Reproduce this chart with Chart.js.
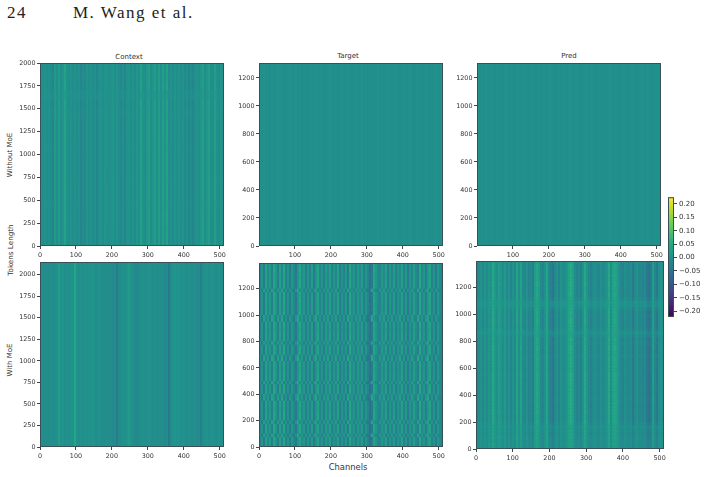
<!DOCTYPE html>
<html lang="en">
<head>
<meta charset="UTF-8">
<title>M. Wang et al. - 24</title>
<script src="https://cdn.jsdelivr.net/npm/chart.js"></script>
<style>
    html, body { margin: 0; padding: 0; background: #fff; overflow: hidden; }
    body { position: relative; width: 704px; height: 477px; font-family: "DejaVu Sans", sans-serif; color: #333; }
    canvas { position: absolute; }
    .lab { position: absolute; white-space: nowrap; transform: translate(-50%, -50%); }
    .rot { transform: translate(-50%, -50%) rotate(-90deg); }
    .head { position: absolute; top: 3px; font: 17px "Liberation Serif", serif; color: #222; letter-spacing: 1.5px; }
</style>
</head>
<body>
    <div class="head" style="left:7px">24</div>
    <div class="head" style="left:73px">M. Wang et al.</div>

    <div class="lab" style="left:129px;top:57px;font-size:7px">Context</div>
    <div class="lab" style="left:348px;top:56px;font-size:7px">Target</div>
    <div class="lab" style="left:569px;top:56px;font-size:7px">Pred</div>
    <div class="lab rot" style="left:10px;top:155px;font-size:7px">Without MoE</div>
    <div class="lab rot" style="left:10px;top:250px;font-size:7.2px">Tokens Length</div>
    <div class="lab rot" style="left:10px;top:360px;font-size:7px">With MoE</div>
    <div class="lab" style="left:348px;top:467px;font-size:8.4px">Channels</div>

<script>
// all heatmap values are in thousandths of the colorbar unit
const contextTop = [
    3,-4,5,-3,2,-6,-20,22,-2,26, -6,8,38,2,-4,6,-6,3,-8,4,
    -22,-4,-14,8,-6,6,-10,2,-22,2, 8,-4,10,3,-2,6,12,-6,8,-6,
    -16,-2,-20,4,10,-8,6,-10,12,-2, 34,2,-4,12,30,-6,8,26,-4,32,
    -2,30,2,34,-8,4,-10,8,-4,10, -6,4,-14,2,-20,-4,-22,-2,8,-2,
    14,30,-4,14,32,-2,-6,30,2,-8,14,4
];
const targetTop = [
    2,-1,3,-2,1,-3,2,0,-2,3, -1,2,-3,1,-1,3,0,-2,4,-1, 2,-3,1,0,-4,2,1,-2,3,-1, 0,2,-3,1,-2,3,0,-1,2,-4,
    1,3,-2,0,2,-1,-3,1,2,-2, 0,3,-1,1,-3,2,0,-2,1,3, -1,2,-2,1,3,-2,0,-1,2,-3, 1,0,2,-1,-2,3,1,-3,0,2,
    -1,1,-2,2,0,-3,1,-1,2,0,-2,1
];
const predTop = [
    1,-2,2,-1,3,-2,0,2,-3,1, 2,-1,0,-2,3,1,-1,2,-3,0, 2,1,-2,3,-1,0,-2,2,1,-3, 2,0,-1,2,-2,1,3,-1,0,-3,
    2,1,-2,2,0,-1,3,-2,1,0, 2,-3,1,-1,2,0,-2,3,-1,1, -2,2,0,-1,1,-2,3,0,-1,2, -3,1,0,2,-2,1,-1,3,-2,0,
    1,-1,2,-2,0,3,-1,1,-2,2,0,-1
];
const contextMoe = [
    -5,-3,-6,-3,-6,-2,-5,1,-1,26, 2,4,-2,4,1,6,2,44,3,-2,
    2,-3,4,-1,5,2,14,1,-4,3, 1,-3,-4,-1,-7,-3,-9,-10,-38,-8,
    -4,2,-1,8,24,6,1,-8,-14,-4, -1,2,-1,-2,4,-1,-4,-1,-7,-2,
    -6,-3,-12,-4,-44,-6,3,9,2,3, 0,3,-2,-3,2,-3,-5,-2,-10,-4,
    -34,-4,2,3,0,3,4,1,-3,3,1,0
];
const targetMoe = [
    -28,12,-42,38,-12,20,-34,46,14,-36, 34,-18,48,-26,8,-40,18,-14,-44,12,
    48,-8,20,-34,14,-26,28,-42,8,42, -20,14,-36,22,-12,34,-28,12,-16,36,
    -34,8,-22,18,-40,48,-8,14,-28,20, -14,28,-34,12,-22,-60,-40,46,14,-18,
    -26,20,-12,34,-36,14,-20,26,-32,8, -14,36,-28,16,-40,12,-20,30,-8,-34,
    50,-16,14,-34,22,42,-26,12,-40,20,-14,-28
];
const predMoe = [
    -28,-6,6,-16,10,-10,12,2,50,14, -2,28,10,-8,22,-14,8,-22,4,-16,
    42,-4,38,-10,-18,4,-24,-12,-36,28, 48,24,-12,-22,2,44,-18,-26,-46,-12,
    6,-22,10,-10,-4,12,40,54,32,-8, -24,-12,-32,6,50,10,-14,-26,-10,2,
    -12,-18,2,-16,-6,10,50,-8,38,46, 30,2,-16,-24,2,-12,-18,-6,-42,-12,
    4,-18,-12,-22,-10,-42,-52,-40,30,-18,-42,-4,10,-8
];

// per-row contrast, lift and column drift, bottom row first
const contextTopGain = [1,.95,1,1,.9,1,1,.95,1,1,.95,1,1,1,.8,1,.55,1,.85,1];
const contextTopLift = [0,0,0,0,1,0,0,0,0,0,1,0,0,0,2,0,3,0,1,0];

const targetMoeGain = [
    1,.95,1.05,.88, .95,1.05,1,.85, 1,1.05,.95,.88, 1,.95,1.05,.85, .95,1.05,1,.88, 1,1.05,.95,.85, 1,.95,1.05,.88,
    1.05,1,.95,.85, 1,1.05,.95,.88, .95,1,1.05,.85, 1,.95,1.05,.88, 1.05,.95,1,.85, 1,1.05,.95,.88, .95,1.05,1,.9
];
const targetMoeShift = [
    0,0,0,1, 0,0,0,1, 0,0,0,0, 0,0,1,1, 0,0,0,1, 0,0,0,0, 0,0,1,1, 0,0,0,1, 0,0,0,0, 0,0,1,1, 0,0,0,0, 0,0,0,1, 0,0,0,0, 0,0,0,0
];
const targetMoeLift = [
    0,1,0,-1, 1,0,1,-1, 0,-1,1,-2, 0,1,0,-1, 1,0,-1,-1, 0,1,0,-2, 1,0,1,-1,
    0,0,1,-1, 1,-1,0,-2, 0,1,0,-1, 1,0,-1,-1, 0,1,0,-2, 0,1,1,-1, 0,0,1,-1
];

const predMoeGain = [
    .6,.65,.55,.7,.8,.65,.6,.85, 1,1,.95,1,1.05,1,.95,1, 1,1,.9,1,1.05,1,1,.95,
    .95,1,1,.85,1,1.05,1,.9, 1,.75,.6,.9, 1,1,1.05,.95, 1,.85,.6,.55,.85,1, 1,.95,1,1.05,1,1,.9,1,1,.85
];
const predMoeLift = [
    4,6,3,5,2,4,8,3, 0,-1,1,0,-2,0,1,0, -1,0,1,0,-1,0,1,-2, 0,-1,0,2,-1,0,0,1, 0,4,9,2, -1,0,0,1, 0,4,11,10,3,0, -1,0,1,0,-1,0,1,-1,0,2
];

// tick positions
const channelTicks = [0, 100, 200, 300, 400, 500];
const channelTicksNoZero = [100, 200, 300, 400, 500];
const tokenTicksLong = [0, 250, 500, 750, 1000, 1250, 1500, 1750, 2000];
const tokenTicksShort = [0, 200, 400, 600, 800, 1000, 1200];
const colorbarTicks = [-0.2, -0.15, -0.1, -0.05, 0, 0.05, 0.1, 0.15, 0.2];
const colorbarLabels = ['\u22120.20', '\u22120.15', '\u22120.10', '\u22120.05', '0.00', '0.05', '0.10', '0.15', '0.20'];
const colorbarLevels = [
    -0.221, -0.21, -0.2, -0.19, -0.18, -0.17, -0.16, -0.15, -0.14, -0.13, -0.12, -0.11, -0.1, -0.09, -0.08, -0.07,
    -0.06, -0.05, -0.04, -0.03, -0.02, -0.01, 0, 0.01, 0.02, 0.03, 0.04, 0.05, 0.06, 0.07, 0.08, 0.09,
    0.1, 0.11, 0.12, 0.13, 0.14, 0.15, 0.16, 0.17, 0.18, 0.19, 0.2, 0.21, 0.225
];

const viridis = ['#440154', '#482475', '#414487', '#355f8d', '#2a788e', '#21918c', '#22a884', '#44bf70', '#7ad151', '#bddf26', '#fde725'];
const colorMin = -0.221, colorMax = 0.225;

const spine = '#3a5058';
const textColor = '#333';

Chart.defaults.font.family = '"DejaVu Sans", sans-serif';
Chart.defaults.font.size = 6.4;
Chart.defaults.color = textColor;

function hexToRgb(hex) {
    return [1, 3, 5].map(i => parseInt(hex.substr(i, 2), 16));
}

function colorOf(v) {
    const t = Math.min(1, Math.max(0, (v - colorMin) / (colorMax - colorMin))) * (viridis.length - 1);
    const i = Math.min(viridis.length - 2, Math.floor(t));
    const a = hexToRgb(viridis[i]), b = hexToRgb(viridis[i + 1]), f = t - i;
    return 'rgb(' + a.map((c, k) => Math.round(c + (b[k] - c) * f)).join(',') + ')';
}

// teal under the bars so row seams don't show white, frame on top
const framePlugin = {
    id: 'frame',
    beforeDatasetsDraw(chart) {
        const a = chart.chartArea;
        chart.ctx.fillStyle = colorOf(0);
        chart.ctx.fillRect(a.left, a.top, a.right - a.left, a.bottom - a.top);
    },
    afterDraw(chart) {
        const a = chart.chartArea, c = chart.ctx;
        c.save();
        c.strokeStyle = spine;
        c.lineWidth = 1;
        c.strokeRect(a.left + 0.5, a.top + 0.5, a.right - a.left - 1, a.bottom - a.top - 1);
        c.restore();
    }
};

function setTicks(values) {
    return scale => { scale.ticks = values.map(v => ({ value: v })); };
}

function addCanvas(left, top, width, height) {
    const el = document.createElement('canvas');
    el.width = width;
    el.height = height;
    el.style.left = left + 'px';
    el.style.top = top + 'px';
    el.style.width = width + 'px';
    el.style.height = height + 'px';
    document.body.appendChild(el);
    return el;
}

function axisStyle() {
    return {
        grid: { display: true, offset: false, drawOnChartArea: false, drawTicks: true, tickLength: 3, tickColor: '#444', tickWidth: 1 },
        border: { display: false }
    };
}

// one stacked slot per channel, one dataset per band of tokens
function heatmap(p) {
    const padTop = 8, padRight = 12, yWidth = 32, xHeight = 17;
    const el = addCanvas(p.left - yWidth, p.top - padTop, p.right - p.left + yWidth + padRight, p.bottom - p.top + padTop + xHeight);
    const step = 512 / p.cols.length;
    const rowCount = p.gain ? p.gain.length : 1;
    const rowSize = p.rowSize || p.yMax;
    const datasets = [];
    for (let r = 0; r < rowCount; r++) {
        const gain = p.gain ? p.gain[r] : 1;
        const lift = p.lift ? p.lift[r] : 0;
        const shift = p.shift ? p.shift[r] : 0;
        const points = [], colors = [];
        p.cols.forEach((_, c) => {
            const v = p.cols[(c + shift) % p.cols.length] * gain + lift;
            points.push({ x: (c + 0.5) * step, y: [r * rowSize, (r + 1) * rowSize] });
            colors.push(colorOf(v / 1000));
        });
        datasets.push({ data: points, backgroundColor: colors, borderWidth: 0, barPercentage: 1, categoryPercentage: 1, inflateAmount: 0 });
    }
    return new Chart(el, {
        type: 'bar',
        data: { datasets },
        plugins: [framePlugin],
        options: {
            responsive: false,
            animation: false,
            events: [],
            layout: { padding: { top: padTop, right: padRight, left: 0, bottom: 0 } },
            plugins: { legend: { display: false }, tooltip: { enabled: false } },
            scales: {
                x: Object.assign(axisStyle(), {
                    type: 'linear', offset: false, min: 0, max: 512, stacked: true,
                    afterBuildTicks: setTicks(p.xTicks),
                    afterFit(s) { s.height = xHeight; },
                    ticks: { autoSkip: false, maxRotation: 0, padding: 2.5, callback: v => String(v) }
                }),
                y: Object.assign(axisStyle(), {
                    type: 'linear', min: 0, max: p.yMax, stacked: false,
                    afterBuildTicks: setTicks(p.yTicks),
                    afterFit(s) { s.width = yWidth; },
                    ticks: { autoSkip: false, padding: 1.5, callback: v => String(v) }
                })
            }
        }
    });
}

heatmap({ left: 40, right: 224, top: 63, bottom: 246, cols: contextTop, gain: contextTopGain, lift: contextTopLift, rowSize: 100, yMax: 2000, xTicks: channelTicks, yTicks: tokenTicksLong });
heatmap({ left: 259, right: 443, top: 63, bottom: 246, cols: targetTop, yMax: 1307, xTicks: channelTicksNoZero, yTicks: tokenTicksShort });
heatmap({ left: 477, right: 661, top: 63, bottom: 246, cols: predTop, yMax: 1307, xTicks: channelTicksNoZero, yTicks: tokenTicksShort });
heatmap({ left: 40, right: 224, top: 262, bottom: 447, cols: contextMoe, yMax: 2148, xTicks: channelTicks, yTicks: tokenTicksLong });
heatmap({ left: 259, right: 443, top: 263, bottom: 447, cols: targetMoe, gain: targetMoeGain, lift: targetMoeLift, shift: targetMoeShift, rowSize: 25, yMax: 1395, xTicks: channelTicks, yTicks: tokenTicksShort });
heatmap({ left: 476, right: 664, top: 261, bottom: 449, cols: predMoe, gain: predMoeGain, lift: predMoeLift, rowSize: 25, yMax: 1395, xTicks: channelTicks, yTicks: tokenTicksShort });

// colorbar, a single category filled with one floating bar per level
(function () {
    const barLeft = 668, barRight = 674, barTop = 197, barBottom = 317, pad = 6, axisWidth = 30;
    const el = addCanvas(barLeft, barTop - pad, barRight - barLeft + axisWidth, barBottom - barTop + pad * 2);
    const datasets = colorbarLevels.slice(0, -1).map((lo, i) => {
        const hi = colorbarLevels[i + 1];
        return { data: [[lo, hi]], backgroundColor: colorOf((lo + hi) / 2), borderWidth: 0, barPercentage: 1, categoryPercentage: 1, stack: 'bar' };
    });
    new Chart(el, {
        type: 'bar',
        data: { labels: [''], datasets },
        plugins: [framePlugin],
        options: {
            responsive: false,
            animation: false,
            events: [],
            layout: { padding: { top: pad, bottom: pad, left: 0, right: 0 } },
            plugins: { legend: { display: false }, tooltip: { enabled: false } },
            scales: {
                x: { display: false },
                y: Object.assign(axisStyle(), {
                    position: 'right', min: colorMin, max: colorMax, stacked: false,
                    afterBuildTicks: setTicks(colorbarTicks),
                    afterFit(s) { s.width = axisWidth; },
                    ticks: {
                        autoSkip: false, padding: 2, font: { size: 7 },
                        callback: (v, i) => colorbarLabels[i]
                    }
                })
            }
        }
    });
})();
</script>
</body>
</html>
